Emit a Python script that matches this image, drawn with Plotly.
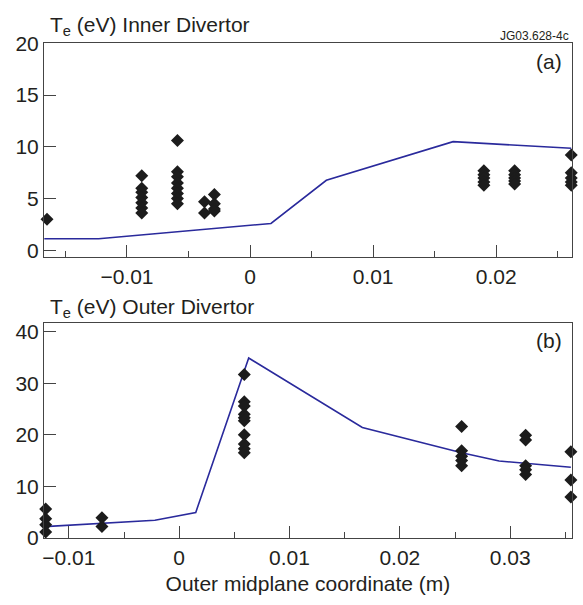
import plotly.graph_objects as go

# ---------------- data ----------------
# (a) Inner divertor: measured Te (diamonds), columns of points
inner_pts_x = ([-0.0165] + [-0.0088] * 7 + [-0.0059] * 8 + [-0.0037] * 2 + [-0.0029] * 4
               + [0.0190] * 5 + [0.0215] * 5 + [0.0261] * 5)
inner_pts_y = ([3.0]
               + [7.2, 6.0, 5.6, 5.1, 4.6, 4.1, 3.6]
               + [10.6, 7.6, 7.1, 6.5, 6.0, 5.5, 5.0, 4.5]
               + [4.7, 3.6]
               + [5.4, 4.5, 4.0, 3.8]
               + [7.7, 7.3, 7.0, 6.6, 6.3]
               + [7.7, 7.3, 7.0, 6.7, 6.4]
               + [9.2, 7.5, 7.0, 6.6, 6.3])
# (a) model curve
inner_line_x = [-0.01673, -0.0123, 0.0017, 0.0062, 0.0165, 0.0261]
inner_line_y = [1.12, 1.12, 2.6, 6.77, 10.5, 9.86]

# (b) Outer divertor
outer_pts_x = ([-0.0121] * 4 + [-0.0070] * 2 + [0.0059] * 10 + [0.0256] * 5
               + [0.0314] * 5 + [0.0355] * 3)
outer_pts_y = ([5.6, 3.7, 2.5, 1.1]
               + [3.9, 2.2]
               + [31.7, 26.4, 25.6, 24.0, 23.3, 22.7, 20.0, 18.2, 17.3, 16.5]
               + [21.6, 16.9, 15.8, 15.0, 14.0]
               + [19.9, 19.0, 14.0, 13.2, 12.3]
               + [16.7, 11.2, 7.9])
outer_line_x = [-0.0122, -0.0022, 0.0015, 0.0063, 0.0166, 0.0256, 0.0290, 0.0355]
outer_line_y = [2.15, 3.4, 4.9, 34.9, 21.4, 16.5, 14.9, 13.7]

# tick labels
inner_xticks = [-0.01, 0, 0.01, 0.02]
inner_xlabels = ["\u22120.01", "0", "0.01", "0.02"]
outer_xticks = [-0.01, 0, 0.01, 0.02, 0.03]
outer_xlabels = ["\u22120.01", "0", "0.01", "0.02", "0.03"]
inner_yticks = [0, 5, 10, 15, 20]
outer_yticks = [0, 10, 20, 30, 40]

W, H = 583, 605
FONT = "Liberation Sans, Arial, sans-serif"
TXT = "#231f20"
LINE = "#2a2a9c"
MARK = "#1c1c1c"
AX = "#444444"

fig = go.Figure()
fig.add_trace(go.Scatter(x=inner_line_x, y=inner_line_y, mode="lines",
                         line=dict(color=LINE, width=1.6), xaxis="x", yaxis="y",
                         showlegend=False))
fig.add_trace(go.Scatter(x=inner_pts_x, y=inner_pts_y, mode="markers",
                         marker=dict(symbol="diamond", size=10, color=MARK),
                         cliponaxis=False, xaxis="x", yaxis="y", showlegend=False))
fig.add_trace(go.Scatter(x=outer_line_x, y=outer_line_y, mode="lines",
                         line=dict(color=LINE, width=1.6), xaxis="x2", yaxis="y2",
                         showlegend=False))
fig.add_trace(go.Scatter(x=outer_pts_x, y=outer_pts_y, mode="markers",
                         marker=dict(symbol="diamond", size=10, color=MARK),
                         cliponaxis=False, xaxis="x2", yaxis="y2", showlegend=False))

xdom = [42.3 / W, 571.7 / W]
ydom1 = [1 - 255 / H, 1 - 32.5 / H]
ydom2 = [1 - 547.3 / H, 1 - 323.3 / H]

common_x = dict(showgrid=False, zeroline=False, showline=True, linecolor=AX, linewidth=1.3,
                mirror=True, ticks="inside", ticklen=12, tickwidth=1.2, tickcolor=AX,
                tickfont=dict(family=FONT, size=21, color=TXT),
                minor=dict(dtick=0.005, ticks="inside", ticklen=6, tickwidth=1.2, tickcolor=AX))
common_y = dict(showgrid=False, zeroline=False, showline=True, linecolor=AX, linewidth=1.3,
                mirror=True, ticks="inside", ticklen=12, tickwidth=1.2, tickcolor=AX,
                tickfont=dict(family=FONT, size=21, color=TXT))

fig.update_layout(
    width=W, height=H, margin=dict(l=0, r=0, t=0, b=0),
    paper_bgcolor="white", plot_bgcolor="white",
    xaxis=dict(domain=xdom, range=[-0.01673, 0.02614], anchor="y",
               tickvals=inner_xticks, ticktext=inner_xlabels, **common_x),
    yaxis=dict(domain=ydom1, range=[-0.67, 20], anchor="x",
               tickvals=inner_yticks, **common_y),
    xaxis2=dict(domain=xdom, range=[-0.01224, 0.03558], anchor="y2",
                tickvals=outer_xticks, ticktext=outer_xlabels,
                title=dict(text="Outer midplane coordinate (m)",
                           font=dict(family=FONT, size=21, color=TXT), standoff=8),
                **common_x),
    yaxis2=dict(domain=ydom2, range=[-0.15, 41.7], anchor="x2",
                tickvals=outer_yticks, **common_y),
    font=dict(family=FONT, color=TXT),
)

def ann(text, x, y, size, xanchor="left"):
    fig.add_annotation(text=text, x=x / W, y=1 - y / H, xref="paper", yref="paper",
                       xanchor=xanchor, yanchor="middle", showarrow=False,
                       font=dict(family=FONT, size=size, color=TXT))

ann("T<sub>e</sub> (eV) Inner Divertor", 46, 15, 21)
ann("T<sub>e</sub> (eV) Outer Divertor", 46, 308, 21)
ann("JG03.628-4c", 571, 25, 12, xanchor="right")
ann("(a)", 564, 51, 21, xanchor="right")
ann("(b)", 564, 342, 21, xanchor="right")

fig.write_html("out.html")
